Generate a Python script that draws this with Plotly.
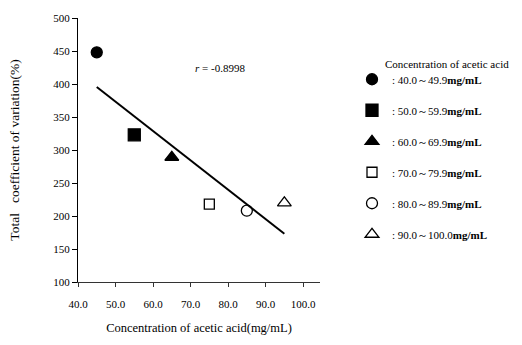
import numpy as np
import plotly.graph_objects as go

# Data
conc = [45, 55, 65, 75, 85, 95]
cv = [448, 323, 289, 218, 208, 220]
labels = ["40.0～49.9", "50.0～59.9", "60.0～69.9", "70.0～79.9", "80.0～89.9", "90.0～100.0"]
symbols = ["circle", "square", "triangle-up", "square-open", "circle-open", "triangle-up-open"]
sizes = [11, 12, 12, 10, 11, 12]
r_text = "<i>r</i> = -0.8998"
x_ticks = [40, 50, 60, 70, 80, 90, 100]
y_ticks = [100, 150, 200, 250, 300, 350, 400, 450, 500]

FONT = "Liberation Serif"

W, H = 522, 345
L, R, T, B = 78, 202, 15, 59
pw, ph = W - L - R, H - T - B

fig = go.Figure()
for i in range(len(conc)):
    fig.add_trace(go.Scatter(
        x=[conc[i]], y=[cv[i]], mode="markers",
        marker=dict(symbol=symbols[i], size=sizes[i], color="black",
                    line=dict(color="black", width=1.3)),
        name=": " + labels[i] + "<b>mg/mL</b>",
        legendgroup=str(i),
    ))

# regression line fitted to the points
slope, intercept = np.polyfit(conc, cv, 1)
xf = np.array([min(conc), max(conc)])
fig.add_trace(go.Scatter(x=xf, y=slope * xf + intercept, mode="lines",
                         line=dict(color="black", width=2), showlegend=False,
                         hoverinfo="skip"))

fig.add_annotation(x=70.7, y=425, xref="x", yref="y", text=r_text, showarrow=False,
                   xanchor="left", yanchor="middle", font=dict(family=FONT, size=11, color="black"))
fig.add_annotation(x=(383 - L) / pw, y=(H - B - 62) / ph, xref="paper", yref="paper",
                   text="Concentration of acetic acid",
                   showarrow=False, xanchor="left", yanchor="middle",
                   font=dict(family=FONT, size=11, color="black"))

fig.update_layout(
    width=W, height=H,
    margin=dict(l=L, r=R, t=T, b=B, pad=0),
    paper_bgcolor="white", plot_bgcolor="white",
    font=dict(family=FONT, size=11, color="black"),
    showlegend=True,
    legend=dict(x=(352 - L) / pw, y=(H - B - 63) / ph, xanchor="left", yanchor="top",
                traceorder="grouped", tracegroupgap=12, itemsizing="trace",
                bgcolor="rgba(0,0,0,0)", font=dict(family=FONT, size=11, color="black")),
    xaxis=dict(range=[40, 104.5], tickvals=x_ticks, ticktext=[f"{v:.1f}" for v in x_ticks],
               showgrid=False, zeroline=False, showline=True, linecolor="#333", linewidth=1,
               ticks="outside", ticklen=4, tickcolor="#333", ticklabelstandoff=8,
               title=dict(text="Concentration of acetic acid(mg/mL)", standoff=14,
                          font=dict(family=FONT, size=12.5))),
    yaxis=dict(range=[100, 500], tickvals=y_ticks, showgrid=False, zeroline=False,
               showline=True, linecolor="black", linewidth=1,
               ticks="outside", ticklen=5, tickcolor="black",
               title=dict(text="Total   coefficient of variation(%)", standoff=30,
                          font=dict(family=FONT, size=13.5))),
)

fig.write_html("out.html")
